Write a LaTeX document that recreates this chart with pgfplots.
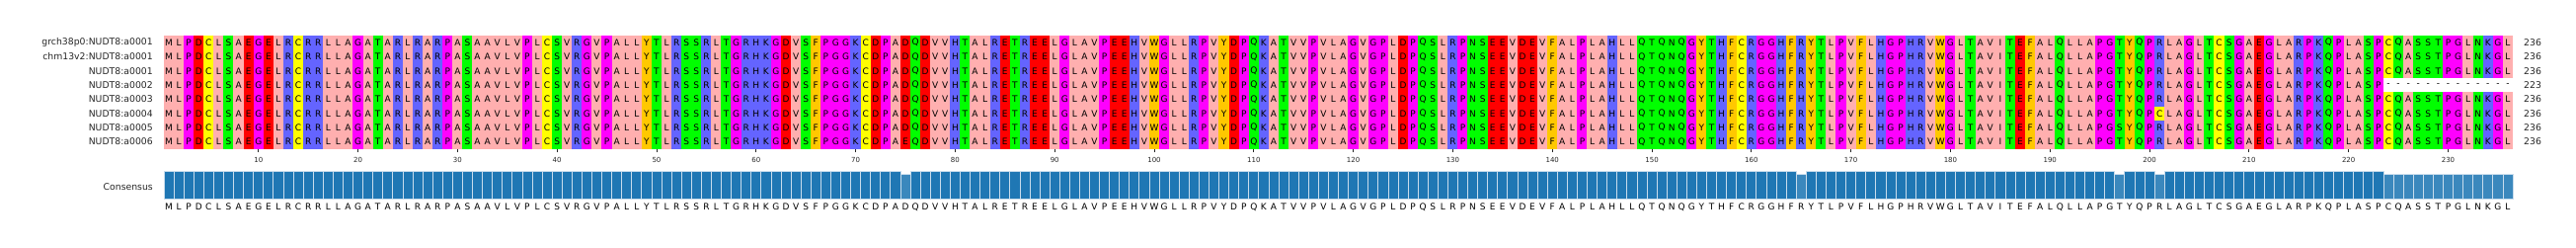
\documentclass[border=0pt]{standalone}
\usepackage{fontspec}
\setmainfont{DejaVu Sans}
\usepackage{pgfplots}
\usepackage{pgfplotstable}
\pgfplotsset{compat=1.18}
\definecolor{bfull}{HTML}{1F77B4}
\definecolor{bpart}{HTML}{3B88BD}
\definecolor{bedge}{HTML}{C8DCEC}
\pgfdeclareplotmark{cell}{\pgfpathrectanglecorners{\pgfqpoint{-5.15pt}{-7.27pt}}{\pgfqpoint{5.15pt}{7.27pt}}\pgfusepathqfill}
\pgfdeclareplotmark{blank}{}
\newcommand\labfont{\fontsize{9.3}{10}\selectfont}
\newcommand\resfont{\fontsize{9}{10}\selectfont}
% columns: position, residue, Zappo class (0 AILMV,1 FWY,2 KRH,3 DE,4 STNQ,5 PG,6 C), consensus fraction
\pgfplotstableread[row sep=\\]{
pos res cls h\\
1 M 0 1\\ 2 L 0 1\\ 3 P 5 1\\ 4 D 3 1\\ 5 C 6 1\\ 6 L 0 1\\ 7 S 4 1\\ 8 A 0 1\\ 9 E 3 1\\ 10 G 5 1\\
11 E 3 1\\ 12 L 0 1\\ 13 R 2 1\\ 14 C 6 1\\ 15 R 2 1\\ 16 R 2 1\\ 17 L 0 1\\ 18 L 0 1\\ 19 A 0 1\\ 20 G 5 1\\
21 A 0 1\\ 22 T 4 1\\ 23 A 0 1\\ 24 R 2 1\\ 25 L 0 1\\ 26 R 2 1\\ 27 A 0 1\\ 28 R 2 1\\ 29 P 5 1\\ 30 A 0 1\\
31 S 4 1\\ 32 A 0 1\\ 33 A 0 1\\ 34 V 0 1\\ 35 L 0 1\\ 36 V 0 1\\ 37 P 5 1\\ 38 L 0 1\\ 39 C 6 1\\ 40 S 4 1\\
41 V 0 1\\ 42 R 2 1\\ 43 G 5 1\\ 44 V 0 1\\ 45 P 5 1\\ 46 A 0 1\\ 47 L 0 1\\ 48 L 0 1\\ 49 Y 1 1\\ 50 T 4 1\\
51 L 0 1\\ 52 R 2 1\\ 53 S 4 1\\ 54 S 4 1\\ 55 R 2 1\\ 56 L 0 1\\ 57 T 4 1\\ 58 G 5 1\\ 59 R 2 1\\ 60 H 2 1\\
61 K 2 1\\ 62 G 5 1\\ 63 D 3 1\\ 64 V 0 1\\ 65 S 4 1\\ 66 F 1 1\\ 67 P 5 1\\ 68 G 5 1\\ 69 G 5 1\\ 70 K 2 1\\
71 C 6 1\\ 72 D 3 1\\ 73 P 5 1\\ 74 A 0 1\\ 75 D 3 0.875\\ 76 Q 4 1\\ 77 D 3 1\\ 78 V 0 1\\ 79 V 0 1\\ 80 H 2 1\\
81 T 4 1\\ 82 A 0 1\\ 83 L 0 1\\ 84 R 2 1\\ 85 E 3 1\\ 86 T 4 1\\ 87 R 2 1\\ 88 E 3 1\\ 89 E 3 1\\ 90 L 0 1\\
91 G 5 1\\ 92 L 0 1\\ 93 A 0 1\\ 94 V 0 1\\ 95 P 5 1\\ 96 E 3 1\\ 97 E 3 1\\ 98 H 2 1\\ 99 V 0 1\\ 100 W 1 1\\
101 G 5 1\\ 102 L 0 1\\ 103 L 0 1\\ 104 R 2 1\\ 105 P 5 1\\ 106 V 0 1\\ 107 Y 1 1\\ 108 D 3 1\\ 109 P 5 1\\ 110 Q 4 1\\
111 K 2 1\\ 112 A 0 1\\ 113 T 4 1\\ 114 V 0 1\\ 115 V 0 1\\ 116 P 5 1\\ 117 V 0 1\\ 118 L 0 1\\ 119 A 0 1\\ 120 G 5 1\\
121 V 0 1\\ 122 G 5 1\\ 123 P 5 1\\ 124 L 0 1\\ 125 D 3 1\\ 126 P 5 1\\ 127 Q 4 1\\ 128 S 4 1\\ 129 L 0 1\\ 130 R 2 1\\
131 P 5 1\\ 132 N 4 1\\ 133 S 4 1\\ 134 E 3 1\\ 135 E 3 1\\ 136 V 0 1\\ 137 D 3 1\\ 138 E 3 1\\ 139 V 0 1\\ 140 F 1 1\\
141 A 0 1\\ 142 L 0 1\\ 143 P 5 1\\ 144 L 0 1\\ 145 A 0 1\\ 146 H 2 1\\ 147 L 0 1\\ 148 L 0 1\\ 149 Q 4 1\\ 150 T 4 1\\
151 Q 4 1\\ 152 N 4 1\\ 153 Q 4 1\\ 154 G 5 1\\ 155 Y 1 1\\ 156 T 4 1\\ 157 H 2 1\\ 158 F 1 1\\ 159 C 6 1\\ 160 R 2 1\\
161 G 5 1\\ 162 G 5 1\\ 163 H 2 1\\ 164 F 1 1\\ 165 R 2 0.875\\ 166 Y 1 1\\ 167 T 4 1\\ 168 L 0 1\\ 169 P 5 1\\ 170 V 0 1\\
171 F 1 1\\ 172 L 0 1\\ 173 H 2 1\\ 174 G 5 1\\ 175 P 5 1\\ 176 H 2 1\\ 177 R 2 1\\ 178 V 0 1\\ 179 W 1 1\\ 180 G 5 1\\
181 L 0 1\\ 182 T 4 1\\ 183 A 0 1\\ 184 V 0 1\\ 185 I 0 1\\ 186 T 4 1\\ 187 E 3 1\\ 188 F 1 1\\ 189 A 0 1\\ 190 L 0 1\\
191 Q 4 1\\ 192 L 0 1\\ 193 L 0 1\\ 194 A 0 1\\ 195 P 5 1\\ 196 G 5 1\\ 197 T 4 0.875\\ 198 Y 1 1\\ 199 Q 4 1\\ 200 P 5 1\\
201 R 2 0.875\\ 202 L 0 1\\ 203 A 0 1\\ 204 G 5 1\\ 205 L 0 1\\ 206 T 4 1\\ 207 C 6 1\\ 208 S 4 1\\ 209 G 5 1\\ 210 A 0 1\\
211 E 3 1\\ 212 G 5 1\\ 213 L 0 1\\ 214 A 0 1\\ 215 R 2 1\\ 216 P 5 1\\ 217 K 2 1\\ 218 Q 4 1\\ 219 P 5 1\\ 220 L 0 1\\
221 A 0 1\\ 222 S 4 1\\ 223 P 5 1\\ 224 C 6 0.875\\ 225 Q 4 0.875\\ 226 A 0 0.875\\ 227 S 4 0.875\\ 228 S 4 0.875\\ 229 T 4 0.875\\ 230 P 5 0.875\\
231 G 5 0.875\\ 232 L 0 0.875\\ 233 N 4 0.875\\ 234 K 2 0.875\\ 235 G 5 0.875\\ 236 L 0 0.875\\
}\seq
% residues that differ from the first sequence (row 1 = top)
\pgfplotstableread[row sep=\\]{
pos row res cls\\
165 5 H 2\\ 201 6 C 6\\ 197 7 S 4\\ 75 8 E 3\\
}\variants
\pgfplotstableread[row sep=\\]{
pos row gap\\
224 4 -\\ 225 4 -\\ 226 4 -\\ 227 4 -\\ 228 4 -\\ 229 4 -\\ 230 4 -\\ 231 4 -\\ 232 4 -\\ 233 4 -\\ 234 4 -\\ 235 4 -\\ 236 4 -\\
}\gaps
\pgfplotstableread[row sep=\\]{
pos row len\\
236.5 1 236\\ 236.5 2 236\\ 236.5 3 236\\ 236.5 4 223\\ 236.5 5 236\\ 236.5 6 236\\ 236.5 7 236\\ 236.5 8 236\\
}\lens
\pgfplotsset{
  zappo/.style={colormap={zappo}{rgb255=(255,175,175) rgb255=(255,200,0) rgb255=(100,100,255)
     rgb255=(255,0,0) rgb255=(0,255,0) rgb255=(255,0,255) rgb255=(255,255,0)},
     point meta min=0, point meta max=6},
  cells/.style={scatter, only marks, mark=cell, point meta=\thisrow{cls}},
  letters/.style={only marks, mark=blank, point meta=explicit symbolic,
    nodes near coords={\pgfplotspointmeta}, nodes near coords align={center},
    every node near coord/.append style={font=\resfont, inner sep=0pt, text=black}},
  skip/.style={x filter/.expression={x==#1 ? nan : x}},
}
\begin{document}
\begin{tikzpicture}
\path[use as bounding box] (0pt,0pt) rectangle (2609pt,251pt);
\begin{axis}[zappo, at={(166pt,100.3pt)}, anchor=south west, scale only axis,
  width=2379pt, height=114.7pt,
  xmin=0.5, xmax=236.5, ymin=0.5, ymax=8.5, clip=false,
  axis x line*=bottom, axis y line*=left, axis line style={draw=none},
  xtick={10,20,...,230}, xtick align=outside, major tick length=3.5pt,
  xtick style={black!85, line width=0.8pt},
  xticklabel style={font=\fontsize{7}{8}\selectfont, text=black!85, yshift=-1.5pt},
  /pgf/number format/assume math mode=true,
  ytick={1,...,8},
  yticklabels={NUDT8:a0006,NUDT8:a0005,NUDT8:a0004,NUDT8:a0003,NUDT8:a0002,NUDT8:a0001,chm13v2:NUDT8:a0001,grch38p0:NUDT8:a0001},
  ytick style={draw=none},
  yticklabel style={font=\labfont, text=black!85, inner sep=0pt, xshift=-11pt}]
% rows: cells from the reference sequence, leaving out the differing positions
\addplot[cells] table[x=pos, y expr=8]{\seq};
\addplot[cells] table[x=pos, y expr=7]{\seq};
\addplot[cells] table[x=pos, y expr=6]{\seq};
\addplot[cells, restrict x to domain=1:223] table[x=pos, y expr=5]{\seq};
\addplot[cells, skip=165] table[x=pos, y expr=4]{\seq};
\addplot[cells, skip=201] table[x=pos, y expr=3]{\seq};
\addplot[cells, skip=197] table[x=pos, y expr=2]{\seq};
\addplot[cells, skip=75] table[x=pos, y expr=1]{\seq};
\addplot[cells] table[x=pos, y expr=9-\thisrow{row}]{\variants};
% residue letters
\addplot[letters] table[x=pos, y expr=8, meta=res]{\seq};
\addplot[letters] table[x=pos, y expr=7, meta=res]{\seq};
\addplot[letters] table[x=pos, y expr=6, meta=res]{\seq};
\addplot[letters, restrict x to domain=1:223] table[x=pos, y expr=5, meta=res]{\seq};
\addplot[letters, skip=165] table[x=pos, y expr=4, meta=res]{\seq};
\addplot[letters, skip=201] table[x=pos, y expr=3, meta=res]{\seq};
\addplot[letters, skip=197] table[x=pos, y expr=2, meta=res]{\seq};
\addplot[letters, skip=75] table[x=pos, y expr=1, meta=res]{\seq};
\addplot[letters] table[x=pos, y expr=9-\thisrow{row}, meta=res]{\variants};
\addplot[letters] table[x=pos, y expr=9-\thisrow{row}, meta=gap]{\gaps};
\addplot[only marks, mark=blank, point meta=explicit symbolic,
  nodes near coords={\pgfplotspointmeta}, nodes near coords align={west},
  every node near coord/.append style={font=\labfont, inner sep=0pt, text=black!85, xshift=11pt}]
  table[x=pos, y expr=9-\thisrow{row}, meta=len]{\lens};
\end{axis}
\begin{axis}[at={(166pt,49.3pt)}, anchor=south west, scale only axis,
  width=2379pt, height=28.4pt,
  xmin=0.5, xmax=236.5, ymin=0, ymax=1, clip=false,
  axis x line*=bottom, axis y line*=left, axis line style={draw=none},
  xtick=\empty, ytick={0.44}, yticklabels={Consensus}, ytick style={draw=none},
  yticklabel style={font=\labfont, text=black!85, inner sep=0pt, xshift=-11pt}]
\addplot[ybar, bar width=1, bar shift=0pt, fill=bfull, draw=bedge, line width=0.8pt,
  restrict y to domain=0.95:1.05] table[x=pos, y=h]{\seq};
\addplot[ybar, bar width=1, bar shift=0pt, fill=bpart, draw=bedge, line width=0.8pt,
  restrict y to domain=0:0.95] table[x=pos, y=h]{\seq};
\addplot[letters] table[x=pos, y expr=-0.27, meta=res]{\seq};
\end{axis}
\end{tikzpicture}
\end{document}
